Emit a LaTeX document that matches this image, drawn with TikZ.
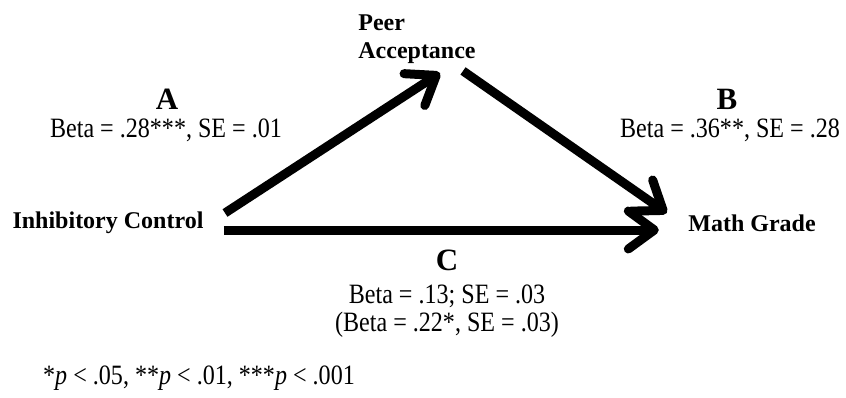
\documentclass[tikz,border=0pt]{standalone}
\usepackage{fontspec}
\setmainfont{Liberation Serif}
\usepackage{graphicx}
\usepackage{tikz}
\usetikzlibrary{calc}
\usetikzlibrary{positioning}
\usetikzlibrary{arrows.meta}
\newcommand{\narrow}[1]{\scalebox{0.86}[1]{#1}}
\tikzset{
	varbox/.style={font=\fontsize{24}{28}\selectfont\bfseries, align=left},
	pathlbl/.style={font=\fontsize{31}{34}\selectfont\bfseries, inner sep=1pt},
	coef/.style={font=\fontsize{28}{32}\selectfont, inner sep=1pt},
	bigarrow/.style={line width=9pt, -{Straight Barb[length=26pt,width=38pt,round]}},
}

\begin{document}
\begin{tikzpicture}[x=1pt, y=1pt]
			\useasboundingbox (0, 0) rectangle (846, 397);
			\node[varbox] (pa) at (417, 358) {Peer\\Acceptance};
			\node[varbox] (ic) at (108, 174) {Inhibitory Control};
			\node[varbox] (mg) at (752, 174) {Math Grade};
			\node[pathlbl] (labA) at (167, 298) {A};
			\node[coef] (betaA) at (166, 267) {\narrow{Beta = .28***, SE = .01}};
			\node[pathlbl] (labB) at (727, 298) {B};
			\node[coef] (betaB) at (730, 267) {\narrow{Beta = .36**, SE = .28}};
			\node[pathlbl] (labC) at (447, 137) {C};
			\node[coef] (betaC) at (447, 101) {\narrow{Beta = .13; SE = .03}};
			\node[coef] (betaCt) at (447, 72) {\narrow{(Beta = .22*, SE = .03)}};
			\node[coef, anchor=west] (note) at (42, 19) {\narrow{*\textit{p} < .05, **\textit{p} < .01, ***\textit{p} < .001}};
			\draw[bigarrow] ([shift={(18, 10)}]ic.east) -- ([shift={(23, -6)}]pa.south);
			\draw[bigarrow] ([shift={(46, -4)}]pa.south) -- ([shift={(-18, 10)}]mg.west);
			\draw[bigarrow] ([shift={(17, -7)}]ic.east) -- ([shift={(-26, -7)}]mg.west);
		\end{tikzpicture}
\end{document}
